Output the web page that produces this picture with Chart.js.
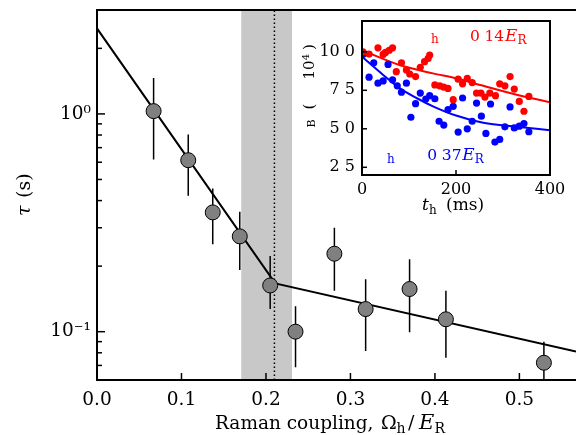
<!DOCTYPE html>
<html><head><meta charset="utf-8">
<script src="https://cdn.jsdelivr.net/npm/chart.js@4/dist/chart.umd.min.js"></script>
<style>
html,body{margin:0;padding:0;background:#fff;}
#wrap{position:relative;width:576px;height:435px;overflow:hidden;background:#fff;}
#main{position:absolute;left:0;top:0;}
#inset{position:absolute;left:300px;top:10px;}
</style></head><body>
<div id="wrap"><canvas id="main" width="576" height="435"></canvas><canvas id="inset" width="265" height="215"></canvas></div>
<script>
// ---------- main panel data ----------
const ramanCoupling = [0.067, 0.108, 0.137, 0.169, 0.205, 0.235, 0.281, 0.318, 0.370, 0.413, 0.529];
const tauValues     = [1.03, 0.613, 0.353, 0.274, 0.163, 0.100, 0.228, 0.127, 0.157, 0.114, 0.072];
const tauErrHigh    = [1.46, 0.804, 0.455, 0.355, 0.2225, 0.131, 0.300, 0.174, 0.215, 0.154, 0.090];
const tauErrLow     = [0.618, 0.421, 0.252, 0.192, 0.127, 0.0687, 0.154, 0.0815, 0.0994, 0.076, 0.05];
const fitX = [0, 0.211, 0.567];
const fitY = [2.47, 0.1667, 0.081];
const bandRange = [0.1706, 0.231];
const criticalCoupling = 0.21;
const xTickValues = [0, 0.1, 0.2, 0.3, 0.4, 0.5];
const yTickValues = [0.06, 0.07, 0.08, 0.09, 0.1, 0.2, 0.3, 0.4, 0.5, 0.6, 0.7, 0.8, 0.9, 1, 2, 3];
const yMajorLabels = {1: '10\u2070', 0.1: '10\u207B\u00B9'};
const xRange = [0, 0.567];
const yRange = [0.06, 3];

// ---------- inset data ----------
const redT = [2, 15, 34, 45, 50, 58, 65, 73, 84, 94.5, 101.6, 114, 124, 133, 140.7, 144, 155, 165.5, 174, 183, 194, 204.6, 214, 224, 234.5, 243.7, 253, 261.5, 272, 284, 293, 304, 315, 324, 334.6, 344.6, 355];
const redN = [10.0, 9.85, 10.26, 9.83, 9.96, 10.1, 10.26, 8.71, 9.29, 8.82, 8.56, 8.39, 8.99, 9.36, 9.57, 9.79, 7.85, 7.79, 7.70, 7.62, 6.89, 8.22, 7.92, 8.28, 8.0, 7.32, 7.32, 7.06, 7.32, 7.15, 7.92, 7.79, 8.39, 7.58, 6.78, 6.14, 7.1];
const blueT = [2, 15, 25, 34, 45, 55.4, 65, 75, 84, 94.5, 104, 114, 124, 135.7, 144, 155, 164, 174, 183, 194, 204.6, 214, 224, 234.5, 243.7, 254, 263.6, 273.5, 282.8, 293, 304, 315, 324, 334.6, 344.6, 355];
const blueN = [9.83, 8.35, 9.29, 7.96, 8.11, 9.18, 8.18, 7.79, 7.38, 7.96, 5.75, 6.63, 7.32, 6.93, 7.15, 6.95, 5.49, 5.24, 6.24, 6.46, 4.79, 7.0, 5.0, 5.49, 6.67, 5.82, 4.70, 6.61, 4.14, 4.31, 5.13, 6.42, 5.06, 5.17, 5.34, 4.81];
const redFitT = [0, 80, 151, 200, 258, 329, 400];
const redFitN = [10.1, 9.14, 8.6, 8.28, 7.79, 7.21, 6.72];
const blueFitT = [0, 45, 80, 116, 151, 200, 258, 329, 400];
const blueFitN = [9.68, 8.5, 7.64, 7.0, 6.46, 5.86, 5.39, 5.13, 4.91];
const insetXTicks = [0, 200, 400];
const insetYTicks = [2.5, 5, 7.5, 10];
const insetYLabels = ['2 5', '5 0', '7 5', '10 0'];
const insetXRange = [0, 400];
const insetYRange = [2, 12];

const SERIF = "'DejaVu Serif', 'Liberation Serif', serif";
Chart.defaults.font.family = SERIF;
Chart.defaults.color = '#000';

const pts = (xa, ya) => xa.map((x, i) => ({x: x, y: ya[i]}));
const errData = [];
ramanCoupling.forEach((x, i) => {
  errData.push({x: x, y: tauErrLow[i]}, {x: x, y: tauErrHigh[i]}, {x: x, y: null});
});
const zeroPad = s => { s.paddingLeft = 0; s.paddingRight = 0; s.paddingTop = 0; s.paddingBottom = 0; };

// piece: [text, size, italic, x, y]
function drawPieces(ctx, pieces) {
  ctx.textAlign = 'left';
  ctx.textBaseline = 'alphabetic';
  pieces.forEach(p => {
    ctx.font = (p[2] ? 'italic ' : '') + p[1] + 'px ' + SERIF;
    ctx.fillText(p[0], p[3], p[4]);
  });
}

const mainDecor = {
  id: 'mainDecor',
  afterDraw(chart) {
    const ctx = chart.ctx, a = chart.chartArea;
    const xs = chart.scales.x, ys = chart.scales.y;
    ctx.save();
    ctx.strokeStyle = '#000';
    ctx.lineWidth = 1.5;
    xTickValues.forEach(v => {
      const px = xs.getPixelForValue(v);
      ctx.beginPath(); ctx.moveTo(px, a.bottom); ctx.lineTo(px, a.bottom - 7); ctx.stroke();
    });
    yTickValues.forEach(v => {
      const py = ys.getPixelForValue(v);
      const major = Math.abs(Math.log10(v) - Math.round(Math.log10(v))) < 1e-9;
      ctx.beginPath(); ctx.moveTo(a.left, py); ctx.lineTo(a.left + (major ? 8 : 5), py); ctx.stroke();
    });
    ctx.lineWidth = 2;
    ctx.strokeRect(a.left, a.top, a.right - a.left + 2, a.bottom - a.top);
    ctx.fillStyle = '#000';
    drawPieces(ctx, [
      ['Raman coupling,', 18.5, false, 215, 429],
      ['\u03A9', 19, false, 381, 429],
      ['h', 14, false, 396.5, 433],
      ['/', 19, false, 408, 429],
      ['E', 21, true, 419, 429],
      ['R', 14, false, 434.5, 433]
    ]);
    ctx.save();
    ctx.translate(24, 195);
    ctx.rotate(-Math.PI / 2);
    drawPieces(ctx, [['\u03C4', 19, true, -21, 6], ['(s)', 19, false, -3, 6]]);
    ctx.restore();
    ctx.restore();
  }
};

new Chart(document.getElementById('main'), {
  type: 'line',
  data: {
    datasets: [
      {data: pts(ramanCoupling, tauValues), showLine: false, pointRadius: 7.5, pointHoverRadius: 7.5,
       pointBackgroundColor: '#808080', pointBorderColor: '#000', pointBorderWidth: 1, order: 1},
      {data: errData, borderColor: '#000', borderWidth: 1.5, pointRadius: 0, spanGaps: false, order: 2},
      {data: pts(fitX, fitY), borderColor: '#000', borderWidth: 2, pointRadius: 0, order: 3},
      {data: [{x: criticalCoupling, y: yRange[0]}, {x: criticalCoupling, y: yRange[1]}], borderColor: '#000',
       borderWidth: 1.5, borderDash: [1.5, 2.5], pointRadius: 0, order: 4},
      {data: [{x: bandRange[0], y: yRange[1]}, {x: bandRange[1], y: yRange[1]}], borderWidth: 0,
       backgroundColor: '#c8c8c8', fill: 'start', pointRadius: 0, order: 5}
    ]
  },
  options: {
    responsive: false, animation: false, devicePixelRatio: 1,
    layout: {autoPadding: false, padding: {top: 10, right: 0, left: 0, bottom: 0}},
    plugins: {legend: {display: false}, tooltip: {enabled: false}},
    scales: {
      x: {type: 'linear', min: xRange[0], max: xRange[1],
          afterBuildTicks: s => { s.ticks = xTickValues.map(v => ({value: v})); },
          afterFit: s => { s.height = 55; zeroPad(s); },
          grid: {display: false, drawTicks: false}, border: {display: false},
          ticks: {callback: v => v.toFixed(1), font: {size: 18.5}, padding: 9, maxRotation: 0, autoSkip: false}},
      y: {type: 'logarithmic', min: yRange[0], max: yRange[1],
          afterBuildTicks: s => { s.ticks = yTickValues.map(v => ({value: v})); },
          afterFit: s => { s.width = 97; zeroPad(s); },
          grid: {display: false, drawTicks: false}, border: {display: false},
          ticks: {callback: v => yMajorLabels[v] || '', font: {size: 18.5}, padding: 6, autoSkip: false}}
    }
  },
  plugins: [mainDecor]
});

const insetDecor = {
  id: 'insetDecor',
  afterDraw(chart) {
    const ctx = chart.ctx, a = chart.chartArea;
    const xs = chart.scales.x, ys = chart.scales.y;
    ctx.save();
    ctx.strokeStyle = '#000';
    ctx.lineWidth = 1.5;
    insetXTicks.forEach(v => {
      const px = xs.getPixelForValue(v);
      ctx.beginPath(); ctx.moveTo(px, a.bottom); ctx.lineTo(px, a.bottom - 5); ctx.stroke();
    });
    insetYTicks.forEach(v => {
      const py = ys.getPixelForValue(v);
      ctx.beginPath(); ctx.moveTo(a.left, py); ctx.lineTo(a.left + 5, py); ctx.stroke();
    });
    ctx.lineWidth = 2;
    ctx.strokeRect(a.left, a.top, a.right - a.left, a.bottom - a.top);
    ctx.fillStyle = '#f00';
    drawPieces(ctx, [
      ['h', 12, false, 131, 33],
      ['0', 15.5, false, 170, 30.7], ['14', 15.5, false, 184.5, 30.7],
      ['E', 17, true, 205, 30.7], ['R', 12, false, 217.5, 34]
    ]);
    ctx.fillStyle = '#00f';
    drawPieces(ctx, [
      ['h', 12, false, 87, 153],
      ['0', 15.5, false, 127.3, 150], ['37', 15.5, false, 141.8, 150],
      ['E', 17, true, 162.3, 150], ['R', 12, false, 174.8, 153.3]
    ]);
    ctx.fillStyle = '#000';
    drawPieces(ctx, [
      ['t', 17, true, 122, 200], ['h', 12, false, 129, 203.5], ['(ms)', 17, false, 146, 200]
    ]);
    const pieces = [['B', 11, 113.5, 12], ['(', 15, 96.5, 10], ['10', 15, 60, 10], ['4', 10, 47, 6], [')', 15, 37, 10]];
    pieces.forEach(p => {
      ctx.save();
      ctx.translate(p[3], p[2]);
      ctx.rotate(-Math.PI / 2);
      ctx.font = p[1] + 'px ' + SERIF;
      ctx.textAlign = 'center'; ctx.textBaseline = 'middle';
      ctx.fillText(p[0], 0, 0);
      ctx.restore();
    });
    ctx.restore();
  }
};

new Chart(document.getElementById('inset'), {
  type: 'line',
  data: {
    datasets: [
      {data: pts(redT, redN), showLine: false, pointRadius: 3.6, pointBackgroundColor: '#ff0000', pointBorderWidth: 0, order: 1},
      {data: pts(blueT, blueN), showLine: false, pointRadius: 3.6, pointBackgroundColor: '#0000ff', pointBorderWidth: 0, order: 2},
      {data: pts(redFitT, redFitN), borderColor: '#ff0000', borderWidth: 2, pointRadius: 0, cubicInterpolationMode: 'monotone', order: 3},
      {data: pts(blueFitT, blueFitN), borderColor: '#0000ff', borderWidth: 2, pointRadius: 0, cubicInterpolationMode: 'monotone', order: 4}
    ]
  },
  options: {
    responsive: false, animation: false, devicePixelRatio: 1,
    layout: {autoPadding: false, padding: {top: 11, right: 15, left: 0, bottom: 0}},
    plugins: {legend: {display: false}, tooltip: {enabled: false}},
    scales: {
      x: {type: 'linear', min: insetXRange[0], max: insetXRange[1],
          afterBuildTicks: s => { s.ticks = insetXTicks.map(v => ({value: v})); },
          afterFit: s => { s.height = 50; zeroPad(s); },
          grid: {display: false, drawTicks: false}, border: {display: false},
          ticks: {font: {size: 16}, padding: 5, maxRotation: 0, autoSkip: false}},
      y: {type: 'linear', min: insetYRange[0], max: insetYRange[1],
          afterBuildTicks: s => { s.ticks = insetYTicks.map(v => ({value: v})); },
          afterFit: s => { s.width = 62; zeroPad(s); },
          grid: {display: false, drawTicks: false}, border: {display: false},
          ticks: {callback: v => insetYLabels[insetYTicks.indexOf(v)], font: {size: 16}, padding: 7, autoSkip: false}}
    }
  },
  plugins: [insetDecor]
});
</script>
</body></html>
